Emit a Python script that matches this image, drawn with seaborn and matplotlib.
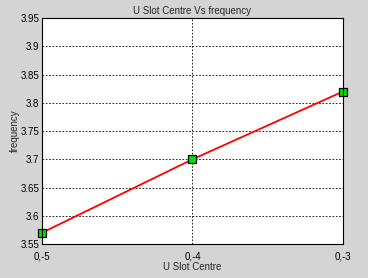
import pandas as pd
import numpy as np
import matplotlib
matplotlib.use("Agg")
import matplotlib.pyplot as plt
import seaborn as sns

# data
slot_centre = [-5, -4, -3]
frequency = [3.57, 3.70, 3.82]
x_labels = ["0,-5", "0,-4", "0,-3"]
y_ticks = [3.55, 3.6, 3.65, 3.7, 3.75, 3.8, 3.85, 3.9, 3.95]
y_labels = ["3.55", "3.6", "3.65", "3.7", "3.75", "3.8", "3.85", "3.9", "3.95"]

df = pd.DataFrame({"U Slot Centre": slot_centre, "frequency": frequency})

sns.set_style("white")
plt.rcParams['font.family'] = ['Liberation Sans', 'DejaVu Sans']

fig = plt.figure(figsize=(3.68, 2.78), dpi=100, facecolor="#d4d4d4")
ax = fig.add_axes([0.114, 0.122, 0.818, 0.813])
ax.set_facecolor("white")

sns.lineplot(data=df, x="U Slot Centre", y="frequency", ax=ax,
             color="red", linewidth=1.3, marker="s", markersize=6,
             markerfacecolor="#00e000", markeredgecolor="black",
             markeredgewidth=0.9, clip_on=False)

ax.set_xlim(-5, -3)
ax.set_ylim(3.55, 3.95)
ax.set_xticks(slot_centre)
ax.set_xticklabels(x_labels)
ax.set_yticks(y_ticks)
ax.set_yticklabels(y_labels)
ax.grid(True, color="black", linestyle=(0, (2, 2)), linewidth=0.6)
ax.set_axisbelow(True)
for s in ax.spines.values():
    s.set_color("black")
    s.set_linewidth(0.8)
ax.tick_params(axis="both", labelsize=7, length=2, direction="in", colors="black")
ax.tick_params(axis="x", pad=5)
ax.tick_params(axis="y", pad=2)
ax.set_xlabel("U Slot Centre", fontsize=7, labelpad=1)
ax.set_ylabel("frequency", fontsize=7)
ax.yaxis.set_label_coords(-0.075, 0.5)
ax.set_title("U Slot Centre Vs frequency", fontsize=7, pad=3)

fig.savefig("out.png", dpi=100, facecolor=fig.get_facecolor())
